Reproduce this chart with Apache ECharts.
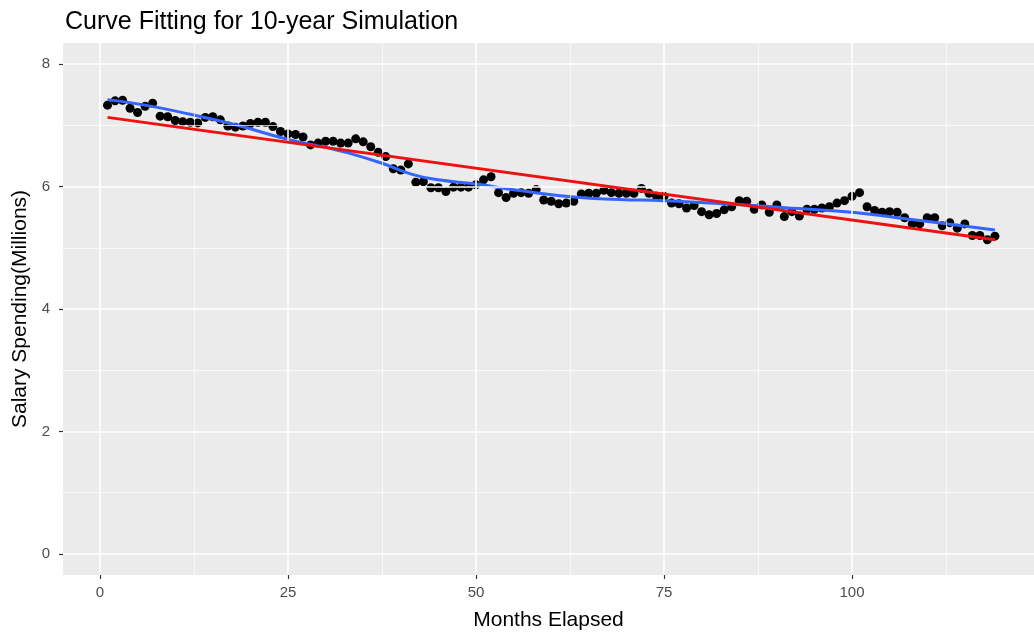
<!DOCTYPE html>
<html>
<head>
<meta charset="utf-8">
<script src="https://cdn.jsdelivr.net/npm/echarts@6/dist/echarts.min.js"></script>
<style>html,body{margin:0;padding:0;background:#fff}#c{width:1034px;height:633px}</style>
</head>
<body>
<div id="c"></div>
<script>
// Months 1..119 and observed salary spending (millions)
const months = Array.from({length: 119}, (_, i) => i + 1);
const spending = [
7.33,7.40,7.41,7.28,7.21,7.31,7.36,7.15,7.14,7.08,
7.06,7.05,7.04,7.13,7.14,7.09,6.99,6.97,6.99,7.03,
7.05,7.05,6.98,6.90,6.86,6.85,6.81,6.68,6.71,6.74,
6.74,6.71,6.71,6.78,6.73,6.65,6.56,6.49,6.29,6.27,
6.37,6.07,6.08,5.98,5.98,5.92,5.99,5.99,5.99,6.03,
6.11,6.16,5.90,5.82,5.89,5.90,5.89,5.95,5.78,5.76,
5.72,5.73,5.76,5.88,5.89,5.89,5.94,5.90,5.89,5.89,
5.89,5.97,5.89,5.84,5.84,5.73,5.72,5.65,5.69,5.59,
5.54,5.56,5.62,5.67,5.77,5.76,5.63,5.70,5.58,5.70,
5.51,5.59,5.52,5.63,5.63,5.65,5.67,5.73,5.77,5.84,
5.90,5.67,5.61,5.58,5.59,5.58,5.49,5.39,5.39,5.49,
5.49,5.36,5.41,5.32,5.39,5.20,5.20,5.13,5.19
];
// Smooth (loess) curve
const smoothX = [1, 6, 12, 18, 25, 30, 33, 37.5, 41.5, 45, 50, 56, 63, 69, 75, 81, 87, 93, 100, 106, 112, 119];
const smoothY = [7.42, 7.33, 7.18, 7.01, 6.77, 6.64, 6.55, 6.38, 6.20, 6.11, 6.04, 5.93, 5.83, 5.79, 5.77, 5.73, 5.69, 5.64, 5.58, 5.49, 5.40, 5.29];
// Linear fit endpoints
const linearX = [1, 119];
const linearY = [7.13, 5.13];
// Tick labels
const xTicks = [0, 25, 50, 75, 100];
const xMinor = [12.5, 37.5, 62.5, 87.5, 112.5];
const yTicks = [0, 2, 4, 6, 8];
const yMinor = [1, 3, 5, 7];

const font = '"Liberation Sans", Arial, sans-serif';
const chart = echarts.init(document.getElementById('c'), null, {renderer: 'canvas'});

const gridLines = [];
xTicks.forEach(v => gridLines.push({xAxis: v, lineStyle: {width: 1.6, color: '#fff', type: 'solid'}}));
xMinor.forEach(v => gridLines.push({xAxis: v, lineStyle: {width: 0.7, color: '#fff', type: 'solid'}}));
yTicks.forEach(v => gridLines.push({yAxis: v, lineStyle: {width: 1.6, color: '#fff', type: 'solid'}}));
yMinor.forEach(v => gridLines.push({yAxis: v, lineStyle: {width: 0.7, color: '#fff', type: 'solid'}}));

chart.setOption({
  animation: false,
  backgroundColor: '#fff',
  title: {
    text: 'Curve Fitting for 10-year Simulation',
    left: 60, top: 5,
    textStyle: {fontFamily: font, fontSize: 25, fontWeight: 'normal', color: '#000'}
  },
  grid: {left: 63, right: 0, top: 43, bottom: 58, show: true, backgroundColor: '#EBEBEB', borderWidth: 0, outerBoundsMode: 'none', containLabel: false},
  xAxis: {
    type: 'value', min: -4.92, max: 124.2,
    axisLine: {show: false, onZero: false},
    splitLine: {show: false},
    axisTick: {show: true, length: 4, lineStyle: {color: '#333', width: 1.2}, customValues: xTicks},
    axisLabel: {customValues: xTicks, color: '#4D4D4D', fontSize: 15, fontFamily: font, margin: 10},
    name: 'Months Elapsed', nameLocation: 'middle', nameGap: 35,
    nameTextStyle: {fontFamily: font, fontSize: 21, color: '#000'}
  },
  yAxis: {
    type: 'value', min: -0.345, max: 8.345,
    axisLine: {show: false, onZero: false},
    splitLine: {show: false},
    axisTick: {show: true, length: 4, lineStyle: {color: '#333', width: 1.2}, customValues: yTicks},
    axisLabel: {customValues: yTicks, color: '#4D4D4D', fontSize: 15, fontFamily: font, margin: 13},
    name: 'Salary Spending(Millions)', nameLocation: 'middle', nameGap: 28,
    nameTextStyle: {fontFamily: font, fontSize: 21, color: '#000'}
  },
  series: [
    {
      type: 'line', data: [], silent: true, z: 1,
      markLine: {silent: true, symbol: 'none', label: {show: false}, animation: false, data: gridLines}
    },
    {
      type: 'scatter', z: 3,
      data: months.map((m, i) => [m, spending[i]]),
      symbol: 'circle', symbolSize: 9,
      itemStyle: {color: '#000', opacity: 1}
    },
    {
      type: 'line', z: 4, smooth: true, showSymbol: false,
      data: smoothX.map((x, i) => [x, smoothY[i]]),
      lineStyle: {color: '#3366FF', width: 3}
    },
    {
      type: 'line', z: 5, showSymbol: false,
      data: linearX.map((x, i) => [x, linearY[i]]),
      lineStyle: {color: '#EE1111', width: 3}
    }
  ]
});
</script>
</body>
</html>
